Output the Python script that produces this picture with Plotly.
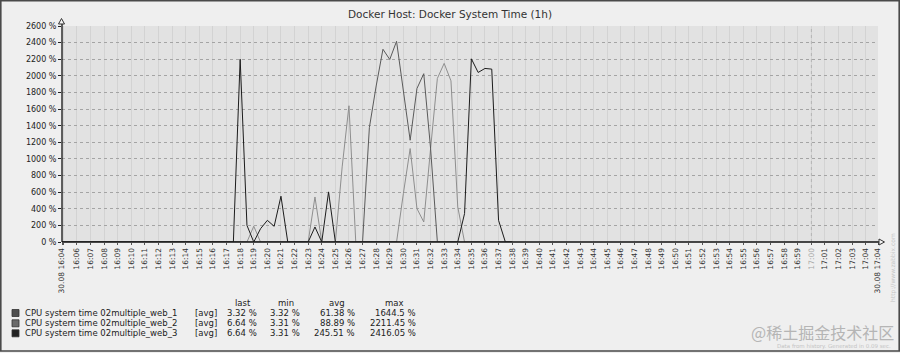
import plotly.graph_objects as go

DATE = "2023-08-30"

# ---- data ----
web1_times = ["16:04:54", "16:18:30", "16:19:00", "16:19:30", "16:23:00", "16:23:30", "16:24:00",
              "16:25:00", "16:25:30", "16:26:00", "16:26:30", "16:29:30", "16:30:00", "16:30:30",
              "16:31:00", "16:31:30", "16:32:00", "16:32:30", "16:33:00", "16:33:30", "16:34:00",
              "16:34:30", "16:38:00"]
web1_values = [0, 0, 190, 0, 0, 542, 0,
               0, 904, 1640, 0, 0, 583, 1125,
               402, 241, 1120, 1969, 2150, 1940, 422,
               0, 0]

web2_times = ["16:04:54", "16:17:30", "16:18:00", "16:18:30", "16:19:00", "16:19:30", "16:20:00",
              "16:20:30", "16:21:00", "16:21:30", "16:23:00", "16:23:30", "16:24:00", "16:24:30",
              "16:25:00", "16:34:00", "16:34:30", "16:35:00", "16:35:30", "16:36:00", "16:36:30",
              "16:37:00", "16:37:30", "16:38:00"]
web2_values = [0, 0, 2200, 200, 0, 160, 261,
               189, 551, 0, 0, 181, 0, 603,
               0, 0, 342, 2205, 2041, 2089, 2081,
               261, 0, 0]

web3_times = ["16:04:54", "16:27:00", "16:27:30", "16:28:00", "16:28:30", "16:29:00", "16:29:30",
              "16:30:00", "16:30:30", "16:31:00", "16:31:30", "16:32:00", "16:32:30", "16:38:00"]
web3_values = [0, 0, 1376, 1878, 2320, 2197, 2416,
               1825, 1225, 1848, 2026, 1130, 0, 0]

series_names = ["CPU system time 02multiple_web_1",
                "CPU system time 02multiple_web_2",
                "CPU system time 02multiple_web_3"]
stat_last = ["3.32 %", "6.64 %", "6.64 %"]
stat_min = ["3.32 %", "3.31 %", "3.31 %"]
stat_avg = ["61.38 %", "88.89 %", "245.51 %"]
stat_max = ["1644.5 %", "2211.45 %", "2416.05 %"]

y_ticks = list(range(0, 2601, 200))
y_labels = [f"{v} %" for v in y_ticks]

start_time = "16:04:54"
end_time = "17:04:54"
minute_ticks = [f"{h}:{m:02d}:00" for h, m in
                [(16, mm) for mm in range(5, 60)] + [(17, mm) for mm in range(0, 5)]]

# ---- styling ----
line_colors = ["#8e8e8e", "#1c1c1c", "#5a5a5a"]
square_colors = ["#4f4f4f", "#6a6a6a", "#222222"]
FONT = "DejaVu Sans"

L, R, T, B = 62, 878, 26, 242


def px_x(x):
    return (x - L) / (R - L)


def px_y(y):
    return (B - y) / (B - T)


def ts(t):
    return f"{DATE} {t}"


fig = go.Figure()
for times, vals, col, name in [(web1_times, web1_values, line_colors[0], series_names[0]),
                               (web2_times, web2_values, line_colors[1], series_names[1]),
                               (web3_times, web3_values, line_colors[2], series_names[2])]:
    fig.add_trace(go.Scatter(x=[ts(t) for t in times], y=vals, mode="lines", name=name,
                             line=dict(color=col, width=1), hoverinfo="skip", showlegend=False))

tickvals = [ts(start_time)] + [ts(t) for t in minute_ticks] + [ts(end_time)]
ticktext = ["30.08 16:04"]
for t in minute_ticks:
    lab = t[:5]
    if lab == "16:05":
        ticktext.append("")
    elif lab == "17:00":
        ticktext.append("<span style='color:#a8a8a8'>17:00</span>")
    else:
        ticktext.append(lab)
ticktext.append("30.08 17:04")

fig.update_layout(
    width=900, height=353,
    margin=dict(l=L, r=900 - R, t=T, b=353 - B),
    paper_bgcolor="#efefef", plot_bgcolor="#e2e2e2",
    font=dict(family=FONT, color="#222222"),
    title=dict(text="Docker Host: Docker System Time (1h)", x=0.5, xanchor="center",
               y=1 - 14 / 353, yanchor="middle", font=dict(size=10.5, color="#333333", family=FONT)),
    xaxis=dict(type="date", range=[ts(start_time), ts(end_time)], tickmode="array",
               tickvals=tickvals, ticktext=ticktext, tickangle=-90,
               tickfont=dict(size=7.5, family=FONT, color="#333333"),
               showgrid=True, gridcolor="#d3d3d3", gridwidth=1,
               showline=False, ticks="outside", ticklen=2, tickcolor="#555555", zeroline=False),
    yaxis=dict(range=[0, 2600], tickmode="array", tickvals=y_ticks, ticktext=y_labels,
               tickfont=dict(size=8, family=FONT, color="#222222"),
               showgrid=True, gridcolor="#a4a4a4", griddash="dot", gridwidth=1,
               showline=False, ticks="outside", ticklen=3, tickcolor="#222222", zeroline=False),
)

shapes = []
# hour line at 17:00
shapes.append(dict(type="line", xref="x", yref="paper", x0=ts("17:00:00"), x1=ts("17:00:00"),
                   y0=0, y1=1, line=dict(color="#b4b4b4", width=1, dash="dot")))
# axes lines
shapes.append(dict(type="line", xref="paper", yref="paper", x0=0, x1=0, y0=0, y1=px_y(23),
                   line=dict(color="#111111", width=1.3)))
shapes.append(dict(type="line", xref="paper", yref="paper", x0=0, x1=px_x(880), y0=0, y1=0,
                   line=dict(color="#111111", width=1.3)))
# arrows
ypath = (f"M {px_x(58.5)} {px_y(24)} L {px_x(61.5)} {px_y(18.5)} L {px_x(64.5)} {px_y(24)} Z")
shapes.append(dict(type="path", xref="paper", yref="paper", path=ypath,
                   line=dict(color="#333333", width=1), fillcolor="#f4f4f4"))
xpath = (f"M {px_x(879)} {px_y(239)} L {px_x(884.5)} {px_y(242)} L {px_x(879)} {px_y(245)} Z")
shapes.append(dict(type="path", xref="paper", yref="paper", path=xpath,
                   line=dict(color="#333333", width=1), fillcolor="#f4f4f4"))
# outer border
shapes.append(dict(type="rect", xref="paper", yref="paper", x0=px_x(0.8), x1=px_x(899.2),
                   y0=px_y(351), y1=px_y(0.8), line=dict(color="#4a4a4a", width=1.6),
                   fillcolor="rgba(0,0,0,0)", layer="above"))

annotations = []
row_y = [313, 323.3, 333.3]
for i in range(3):
    shapes.append(dict(type="rect", xref="paper", yref="paper",
                       x0=px_x(12), x1=px_x(19), y0=px_y(row_y[i] + 3.5), y1=px_y(row_y[i] - 3.5),
                       line=dict(color="#333333", width=0.8), fillcolor=square_colors[i]))
    annotations.append(dict(x=px_x(22.5), y=px_y(row_y[i]), text=series_names[i], xanchor="left"))
    annotations.append(dict(x=px_x(193), y=px_y(row_y[i]), text="[avg]", xanchor="left"))
    annotations.append(dict(x=px_x(259), y=px_y(row_y[i]), text=stat_last[i], xanchor="right"))
    annotations.append(dict(x=px_x(302), y=px_y(row_y[i]), text=stat_min[i], xanchor="right"))
    annotations.append(dict(x=px_x(357), y=px_y(row_y[i]), text=stat_avg[i], xanchor="right"))
    annotations.append(dict(x=px_x(418), y=px_y(row_y[i]), text=stat_max[i], xanchor="right"))
for lab, cx in [("last", 243), ("min", 286), ("avg", 337), ("max", 394)]:
    annotations.append(dict(x=px_x(cx), y=px_y(302.5), text=lab, xanchor="center"))

for a in annotations:
    a.update(xref="paper", yref="paper", showarrow=False, yanchor="middle",
             font=dict(size=8.5, family=FONT, color="#222222"))

annotations.append(dict(xref="paper", yref="paper", x=px_x(896), y=px_y(332), text="@稀土掘金技术社区",
                        xanchor="right", yanchor="middle", showarrow=False,
                        font=dict(size=16, family="Noto Sans CJK SC", color="#b5b5b5")))
annotations.append(dict(xref="paper", yref="paper", x=px_x(893), y=px_y(346.5),
                        text="Data from history. Generated in 0.09 sec.",
                        xanchor="right", yanchor="middle", showarrow=False,
                        font=dict(size=5.5, family=FONT, color="#c4c4c4")))
annotations.append(dict(xref="paper", yref="paper", x=px_x(893), y=px_y(268),
                        text="http://www.zabbix.com", textangle=-90,
                        xanchor="center", yanchor="middle", showarrow=False,
                        font=dict(size=6, family=FONT, color="#c4c4c4")))

fig.update_layout(shapes=shapes, annotations=annotations)
fig.write_html("out.html")
